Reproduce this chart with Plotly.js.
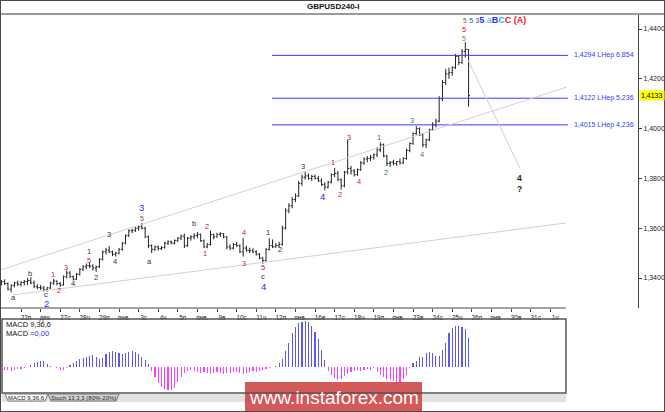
<!DOCTYPE html>
<html><head><meta charset="utf-8">
<script src="https://cdn.plot.ly/plotly-3.0.1.min.js"></script>
<style>html,body{margin:0;padding:0;background:#fff;}#chart{width:665px;height:412px;}</style>
</head><body><div id="chart"></div>
<script>
// ---- DATA (4-hour bars, first slot = -6 : Dec 21) ----
const firstSlot = -6;
const open = [
1.3375,1.3385,1.3378,1.3355,1.3370,1.3380,
1.3375,1.3382,1.3386,1.3390,1.3380,1.3365,
1.3362,1.3360,1.3352,1.3360,1.3380,1.3388,
1.3378,1.3372,1.3405,1.3420,1.3405,1.3395,
1.3415,1.3435,1.3445,1.3450,1.3448,1.3440,
1.3445,1.3475,1.3505,1.3512,1.3505,1.3495,
1.3500,1.3515,1.3540,1.3570,1.3590,1.3592,
1.3600,1.3605,1.3600,1.3565,1.3530,1.3515,
1.3525,1.3518,1.3522,1.3540,1.3545,1.3540,
1.3550,1.3560,1.3568,1.3530,1.3560,1.3565,
1.3570,1.3575,1.3550,1.3525,1.3535,1.3575,
1.3565,1.3575,1.3578,1.3565,1.3525,1.3520,
1.3535,1.3530,1.3505,1.3520,1.3512,1.3510,
1.3505,1.3495,1.3480,1.3470,1.3515,1.3530,
1.3525,1.3530,1.3535,1.3600,1.3670,1.3690,
1.3715,1.3730,1.3780,1.3805,1.3810,1.3800,
1.3808,1.3800,1.3790,1.3775,1.3765,1.3785,
1.3815,1.3820,1.3795,1.3770,1.3825,1.3840,
1.3830,1.3815,1.3835,1.3862,1.3878,1.3880,
1.3885,1.3895,1.3915,1.3935,1.3890,1.3860,
1.3865,1.3860,1.3868,1.3862,1.3880,1.3912,
1.3940,1.3980,1.4000,1.3975,1.3935,1.3955,
1.3995,1.4015,1.4030,1.4120,1.4185,1.4220,
1.4225,1.4245,1.4290,1.4265,1.4310,1.4318];
const high = [
1.3392,1.3395,1.3382,1.3375,1.3385,1.3390,
1.3388,1.3392,1.3400,1.3403,1.3390,1.3375,
1.3372,1.3368,1.3365,1.3385,1.3397,1.3390,
1.3385,1.3410,1.3430,1.3428,1.3410,1.3420,
1.3440,1.3452,1.3458,1.3462,1.3455,1.3450,
1.3480,1.3510,1.3520,1.3528,1.3510,1.3505,
1.3520,1.3545,1.3575,1.3595,1.3598,1.3605,
1.3612,1.3622,1.3605,1.3570,1.3535,1.3530,
1.3530,1.3528,1.3545,1.3552,1.3550,1.3555,
1.3565,1.3575,1.3578,1.3565,1.3572,1.3580,
1.3585,1.3578,1.3555,1.3540,1.3590,1.3578,
1.3582,1.3585,1.3580,1.3568,1.3535,1.3540,
1.3545,1.3535,1.3560,1.3530,1.3522,1.3520,
1.3512,1.3500,1.3485,1.3520,1.3560,1.3555,
1.3540,1.3545,1.3610,1.3680,1.3700,1.3725,
1.3740,1.3790,1.3815,1.3828,1.3820,1.3815,
1.3815,1.3810,1.3800,1.3785,1.3790,1.3820,
1.3842,1.3830,1.3800,1.3830,1.3955,1.3850,
1.3838,1.3840,1.3870,1.3885,1.3890,1.3895,
1.3900,1.3925,1.3945,1.3940,1.3895,1.3870,
1.3875,1.3870,1.3880,1.3885,1.3920,1.3945,
1.3985,1.4010,1.4005,1.3980,1.3960,1.4000,
1.4025,1.4040,1.4130,1.4195,1.4240,1.4245,
1.4250,1.4300,1.4295,1.4320,1.4347,1.4318];
const low = [
1.3370,1.3372,1.3350,1.3343,1.3362,1.3368,
1.3366,1.3370,1.3372,1.3375,1.3360,1.3355,
1.3352,1.3346,1.3345,1.3355,1.3372,1.3370,
1.3364,1.3370,1.3398,1.3400,1.3390,1.3392,
1.3410,1.3428,1.3435,1.3440,1.3430,1.3425,
1.3440,1.3470,1.3495,1.3500,1.3488,1.3486,
1.3495,1.3510,1.3535,1.3565,1.3580,1.3585,
1.3590,1.3595,1.3560,1.3520,1.3500,1.3508,
1.3510,1.3512,1.3518,1.3532,1.3535,1.3535,
1.3545,1.3552,1.3520,1.3525,1.3550,1.3555,
1.3560,1.3545,1.3520,1.3520,1.3530,1.3555,
1.3562,1.3565,1.3560,1.3515,1.3512,1.3515,
1.3525,1.3500,1.3486,1.3505,1.3500,1.3500,
1.3490,1.3475,1.3457,1.3465,1.3510,1.3520,
1.3522,1.3522,1.3530,1.3595,1.3660,1.3680,
1.3705,1.3725,1.3770,1.3795,1.3795,1.3790,
1.3795,1.3785,1.3770,1.3752,1.3760,1.3780,
1.3805,1.3790,1.3755,1.3765,1.3815,1.3815,
1.3808,1.3810,1.3830,1.3855,1.3865,1.3870,
1.3875,1.3885,1.3905,1.3885,1.3850,1.3846,
1.3852,1.3850,1.3855,1.3858,1.3875,1.3905,
1.3935,1.3975,1.3970,1.3925,1.3922,1.3950,
1.3990,1.4005,1.4025,1.4110,1.4175,1.4200,
1.4212,1.4240,1.4255,1.4260,1.4285,1.4088];
const close = [
1.3385,1.3378,1.3355,1.3370,1.3380,1.3375,
1.3382,1.3386,1.3390,1.3380,1.3365,1.3362,
1.3360,1.3352,1.3360,1.3380,1.3388,1.3378,
1.3372,1.3405,1.3420,1.3405,1.3395,1.3415,
1.3435,1.3445,1.3450,1.3448,1.3440,1.3445,
1.3475,1.3505,1.3512,1.3505,1.3495,1.3500,
1.3515,1.3540,1.3570,1.3590,1.3592,1.3600,
1.3605,1.3600,1.3565,1.3530,1.3515,1.3525,
1.3518,1.3522,1.3540,1.3545,1.3540,1.3550,
1.3560,1.3568,1.3530,1.3560,1.3565,1.3570,
1.3575,1.3550,1.3525,1.3535,1.3575,1.3565,
1.3575,1.3578,1.3565,1.3525,1.3520,1.3535,
1.3530,1.3505,1.3520,1.3512,1.3510,1.3505,
1.3495,1.3480,1.3470,1.3515,1.3530,1.3525,
1.3530,1.3535,1.3600,1.3670,1.3690,1.3715,
1.3730,1.3780,1.3805,1.3810,1.3800,1.3808,
1.3800,1.3790,1.3775,1.3765,1.3785,1.3815,
1.3820,1.3795,1.3770,1.3825,1.3840,1.3830,
1.3815,1.3835,1.3862,1.3878,1.3880,1.3885,
1.3895,1.3915,1.3935,1.3890,1.3860,1.3865,
1.3860,1.3868,1.3862,1.3880,1.3912,1.3940,
1.3980,1.4000,1.3975,1.3935,1.3955,1.3995,
1.4015,1.4030,1.4120,1.4185,1.4220,1.4225,
1.4245,1.4290,1.4265,1.4310,1.4318,1.4133];
// MACD(9,36,6) histogram, in units of 0.0001
const macdHist = [
-2,-3,-3,-4,-3,-2,
-2,-1,0,2,4,5,
6,6,3,1,0,-1,
-3,-3,-1,2,4,6,
8,9,10,11,12,10,
8,9,13,15,16,15,
14,13,14,15,16,15,
13,10,7,3,-4,-10,
-16,-20,-22,-23,-23,-21,
-15,-10,-6,-4,-3,-4,
-5,-6,-5,-6,-7,-6,
-5,-6,-7,-6,-6,-5,
-5,-6,-7,-6,-5,-4,
-5,-4,-3,-2,-1,0,
1,4,8,16,24,34,
40,44,45,46,45,41,
35,28,17,7,-4,-8,
-11,-13,-12,-9,-7,-5,
-4,-3,-4,-3,-2,-3,
-1,-5,-8,-10,-12,-13,
-14,-16,-15,-12,-8,-1,
4,6,10,10,14,15,
14,11,11,17,24,34,
39,41,41,40,38,29];
const dayTickSlots = [0,6,12,18,24,30,36,42,48,54,60,66,72,78,84,90,96,102,108,114,120,126,132,138,144,150,156,162];
const dayTickLabels = ["22п","дек.","27с","28ч","29п","янв.","3с","4ч","5п","янв.","9в","10с","11ч","12п","янв.","16в","17с","18ч","19п","янв.","23в","24с","25ч","26п","янв.","30в","31с","1ч"];
const priceTicks = [1.34,1.36,1.38,1.40,1.42,1.44];
const lastPrice = 1.4133;
const levelPrices = [1.4294,1.4122,1.4015];
const levelLabels = ["1,4294 LНер 6,854","1,4122 LНер 5,236","1,4015 LНер 4,236"];
const levelFromSlot = 76.8, levelToSlot = 167.4;
// trend lines: [slot0, price0, slot1, price1]
const upperLine = [-6.4, 1.3432, 167.1, 1.4167];
const lowerLine = [-2.45, 1.3332, 166.8, 1.3621];
const projLine = [136.8, 1.4276, 152.7, 1.3842];
// wave marks
const waveSlot = [-2.4,2.8,7.7,7.7,9.8,11.6,13.8,15.9,20.8,20.8,23.0,26.9,28.8,37.0,37.0,39.2,53.0,56.9,56.3,68.3,68.3,75.6,79.3,74.1,74.1,74.1,86.3,92.4,95.5,97.6,100.4,103.5,109.6,111.7,119.7,122.7,135.6,135.6,152.7,152.7];
const wavePrice = [1.3320,1.3420,1.3332,1.3298,1.3416,1.3348,1.3444,1.3376,1.3508,1.3472,1.3404,1.3573,1.3468,1.3683,1.3637,1.3468,1.3617,1.3605,1.3500,1.3581,1.3460,1.3581,1.3516,1.3444,1.3408,1.3364,1.3846,1.3729,1.3862,1.3737,1.3966,1.3786,1.3966,1.3822,1.4031,1.3898,1.4362,1.4398,1.3802,1.3759];
const waveText = ['a','b','c','2','1','2','3','4','1','5','2','3','4','3','5','a','b','2','1','4','3','1','2','5','c','4','3','4','1','2','3','4','1','2','3','4','5','5','4','?'];
const waveKind = ['k','k','k','B','r','r','r','k','k','r','k','k','k','B','n','k','k','r','r','r','r','k','k','r','k','B','k','B','r','r','r','r','g','g','g','g','o','r','K','K'];
const headSlot = 134.9, headPrice = 1.4436;

// ---- LAYOUT CONSTANTS ----
const W = 665, H = 412;
const slot0px = 21, pxPerSlot = 3.267;
const px2slot = p => (p - slot0px) / pxPerSlot;
const fy = p => 1 - p / H, fx = p => p / W;
const FONT = "Liberation Sans, Arial, sans-serif";

const slots = open.map((_, i) => firstSlot + i);
const kindStyle = {
  k: {c: '#333333', s: 7.5}, r: {c: '#d42020', s: 7.5}, B: {c: '#2b2bff', s: 9.5},
  g: {c: '#2e8b57', s: 7.5}, o: {c: '#7a8a2a', s: 7}, n: {c: '#8b3a1a', s: 7},
  K: {c: '#222222', s: 8.5}
};

const traces = [
  {type: 'ohlc', x: slots, open: open, high: high, low: low, close: close,
   xaxis: 'x', yaxis: 'y', tickwidth: 0.4, hoverinfo: 'skip',
   increasing: {line: {color: '#222', width: 1}}, decreasing: {line: {color: '#222', width: 1}}},
  {type: 'bar', x: slots, y: macdHist, xaxis: 'x2', yaxis: 'y2', width: 0.34, hoverinfo: 'skip',
   marker: {color: macdHist.map(v => v >= 0 ? '#5a5af2' : '#ff3cff'), line: {width: 0}}}
];

const shapes = [];
const annotations = [];
// watermark box
shapes.push({type: 'rect', xref: 'paper', yref: 'paper', x0: fx(245), x1: fx(422), y0: 0, y1: fy(382),
  fillcolor: 'rgba(205,62,62,0.86)', line: {width: 0}, layer: 'above'});
// title separator
shapes.push({type: 'line', xref: 'paper', yref: 'paper', x0: 0, x1: 1, y0: fy(14), y1: fy(14), line: {color: '#9a9a9a', width: 2}});
// main bottom axis line
shapes.push({type: 'line', xref: 'paper', yref: 'paper', x0: 0, x1: fx(566), y0: fy(308), y1: fy(308), line: {color: '#444', width: 1}});
// MACD box
shapes.push({type: 'rect', xref: 'paper', yref: 'paper', x0: fx(2), x1: fx(566), y0: fy(393), y1: fy(319), line: {color: '#555', width: 1.5}});
// tab band
shapes.push({type: 'rect', xref: 'paper', yref: 'paper', x0: fx(2), x1: fx(566), y0: fy(402), y1: fy(394), fillcolor: '#e2e2e2', line: {width: 0}, layer: 'below'});
shapes.push({type: 'path', xref: 'paper', yref: 'paper',
  path: `M ${fx(5)} ${fy(394)} L ${fx(8)} ${fy(401)} L ${fx(45)} ${fy(401)} L ${fx(48)} ${fy(394)} Z`, fillcolor: '#ffffff', line: {color: '#777', width: 1}});
shapes.push({type: 'path', xref: 'paper', yref: 'paper',
  path: `M ${fx(48)} ${fy(394)} L ${fx(51)} ${fy(401)} L ${fx(116)} ${fy(401)} L ${fx(119)} ${fy(394)} Z`, fillcolor: '#d4d4d4', line: {color: '#777', width: 1}});
// level lines
levelPrices.forEach((p, i) => {
  shapes.push({type: 'line', xref: 'x', yref: 'y', x0: levelFromSlot, x1: levelToSlot, y0: p, y1: p, line: {color: '#3a3aff', width: 1}});
  annotations.push({xref: 'x', yref: 'y', x: levelToSlot + 1.2, y: p, text: levelLabels[i], showarrow: false,
    xanchor: 'left', yanchor: 'middle', font: {family: FONT, size: 7, color: '#3a3aee'}});
});
// trend lines
[upperLine, lowerLine, projLine].forEach(l => {
  shapes.push({type: 'line', xref: 'x', yref: 'y', x0: l[0], y0: l[1], x1: l[2], y1: l[3], line: {color: '#dccbd6', width: 1}});
});
// outer border
shapes.push({type: 'rect', xref: 'paper', yref: 'paper', x0: 0, x1: 1, y0: 0, y1: 1, line: {color: '#4a4a4a', width: 2}});

// title
annotations.push({xref: 'paper', yref: 'paper', x: 0.5, y: fy(7), text: '<b>GBPUSD240-I</b>', showarrow: false,
  xanchor: 'center', yanchor: 'middle', font: {family: FONT, size: 8, color: '#111'}});
// price tag
annotations.push({xref: 'paper', yref: 'y', x: fx(639), y: lastPrice, text: '1,4133', showarrow: false,
  xanchor: 'left', yanchor: 'middle', bgcolor: '#ffff00', borderpad: 1, font: {family: FONT, size: 7, color: '#000'}});
// MACD texts
annotations.push({xref: 'paper', yref: 'paper', x: fx(5), y: fy(324), text: 'MACD 9,36,6', showarrow: false,
  xanchor: 'left', yanchor: 'middle', borderpad: 0, font: {family: FONT, size: 7.5, color: '#111'}});
annotations.push({xref: 'paper', yref: 'paper', x: fx(5), y: fy(333), text: 'MACD =<span style="color:#2b2bff">0,00</span>', showarrow: false,
  xanchor: 'left', yanchor: 'middle', borderpad: 0, font: {family: FONT, size: 7.5, color: '#111'}});
// tabs
annotations.push({xref: 'paper', yref: 'paper', x: fx(26.5), y: fy(397.5), text: 'MACD 9,36,6', showarrow: false,
  xanchor: 'center', yanchor: 'middle', borderpad: 0, font: {family: FONT, size: 6, color: '#111'}});
annotations.push({xref: 'paper', yref: 'paper', x: fx(83.5), y: fy(397.5), text: 'Stoch 13,3,3 (80%-20%)', showarrow: false,
  xanchor: 'center', yanchor: 'middle', borderpad: 0, font: {family: FONT, size: 6, color: '#222'}});
// watermark text
annotations.push({xref: 'paper', yref: 'paper', x: fx(333.5), y: fy(397), text: 'www.instaforex.com', showarrow: false,
  xanchor: 'center', yanchor: 'middle', font: {family: FONT, size: 19, color: '#ffffff'}});
// wave labels
waveText.forEach((t, i) => {
  const st = kindStyle[waveKind[i]];
  annotations.push({xref: 'x', yref: 'y', x: waveSlot[i], y: wavePrice[i], text: waveKind[i] === 'K' ? '<b>' + t + '</b>' : t,
    showarrow: false, xanchor: 'center', yanchor: 'middle', borderpad: 0, font: {family: FONT, size: st.s, color: st.c}});
});
// header wave row
annotations.push({xref: 'x', yref: 'y', x: headSlot, y: headPrice, showarrow: false, xanchor: 'left', yanchor: 'middle', borderpad: 0,
  font: {family: FONT, size: 9, color: '#2b2bff'},
  text: '<span style="color:#555;font-size:6.5px">5</span> <span style="color:#3b3bff;font-size:7px">5</span> <span style="color:#444;font-size:6.5px">3</span><b>5</b> <span style="color:#33aaff">a</span><b>B</b><span style="color:#33aaff"><b>C</b></span><span style="color:#ee2222"><b>C</b></span> <span style="color:#ee2222"><b>(A)</b></span>'});

const layout = {
  width: W, height: H, margin: {l: 0, r: 0, t: 0, b: 0},
  paper_bgcolor: '#ffffff', plot_bgcolor: 'rgba(0,0,0,0)',
  separators: ', ', showlegend: false, dragmode: false,
  xaxis: {domain: [0, fx(638)], range: [px2slot(0), px2slot(638)], showgrid: false, zeroline: false, showline: false,
    rangeslider: {visible: false}, tickmode: 'array', tickvals: dayTickSlots, ticktext: dayTickLabels,
    ticks: 'outside', ticklen: 3, tickcolor: '#444', ticklabelshift: 5, ticklabelstandoff: 0,
    tickfont: {family: FONT, size: 6.5, color: '#222'}, automargin: false, fixedrange: true},
  yaxis: {domain: [fy(308), fy(14)], range: [1.44 - (308 - 29) * 0.0004016, 1.44 + 15 * 0.0004016], side: 'right',
    showgrid: false, zeroline: false, showline: true, linecolor: '#444', linewidth: 1,
    tickmode: 'array', tickvals: priceTicks, tickformat: '.4f', ticks: 'outside', ticklen: 3, tickcolor: '#444',
    tickfont: {family: FONT, size: 7, color: '#222'}, automargin: false, fixedrange: true},
  xaxis2: {domain: [fx(2), fx(566)], range: [px2slot(2), px2slot(566)], anchor: 'y2', visible: false, fixedrange: true},
  yaxis2: {domain: [fy(393), fy(319)], range: [-26, 48], anchor: 'x2', visible: false, fixedrange: true},
  shapes: shapes, annotations: annotations, bargap: 0
};
Plotly.newPlot('chart', traces, layout, {staticPlot: true, displayModeBar: false});
</script></body></html>
